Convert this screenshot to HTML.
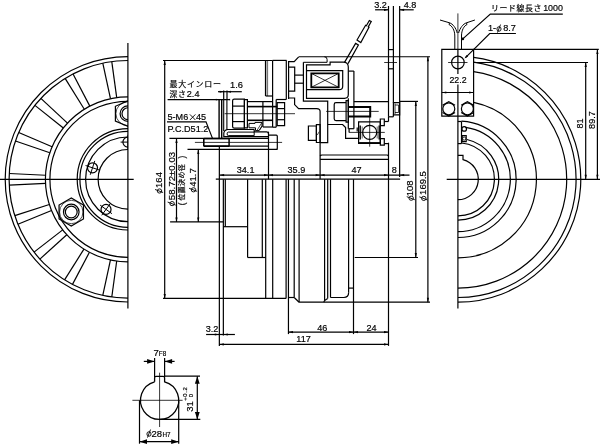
<!DOCTYPE html>
<html><head><meta charset="utf-8"><title>drawing</title>
<style>html,body{margin:0;padding:0;background:#fff}svg{display:block;will-change:transform;opacity:.999}
text{font-family:"Liberation Sans","Noto Sans CJK JP",sans-serif;fill:#000;stroke:#000;stroke-width:.18px}</style></head>
<body><svg width="600" height="448" viewBox="0 0 600 448" fill="none" stroke="#000" stroke-width="1.2" stroke-linecap="butt" stroke-linejoin="miter">
<defs><clipPath id="clipL"><rect x="0" y="0" width="127.9" height="448"/></clipPath>
<clipPath id="clipR"><rect x="457.9" y="0" width="150" height="448"/></clipPath></defs>
<rect x="0" y="0" width="600" height="448" fill="#fff" stroke="none"/>
<g clip-path="url(#clipL)">
<circle cx="127.9" cy="179.3" r="122.7" stroke-width="1.2"/>
<circle cx="127.9" cy="179.3" r="118.8" stroke-width="1.2"/>
<circle cx="127.9" cy="179.3" r="82.5" stroke-width="1.2"/>
<circle cx="127.9" cy="179.3" r="78" stroke-width="1.2"/>
<circle cx="127.9" cy="179.3" r="50.7" stroke-width="1.2"/>
<circle cx="127.9" cy="179.3" r="48" stroke-width="1.2"/>
<circle cx="127.9" cy="179.3" r="42.3" stroke-width="1.2"/>
<circle cx="127.9" cy="179.3" r="29.8" stroke-width="1.2"/>
<path d="M45.5 175.27L9.24 173.5" stroke-width="1.2"/>
<path d="M45.5 183.33L9.24 185.1" stroke-width="1.2"/>
<path d="M49.35 204.52L14.79 215.62" stroke-width="1.2"/>
<path d="M51.52 210.47L17.91 224.19" stroke-width="1.2"/>
<path d="M62.71 229.86L34.03 252.11" stroke-width="1.2"/>
<path d="M66.78 234.72L39.89 259.1" stroke-width="1.2"/>
<path d="M83.94 249.11L64.59 279.83" stroke-width="1.2"/>
<path d="M89.42 252.28L72.49 284.39" stroke-width="1.2"/>
<path d="M110.47 259.94L102.79 295.42" stroke-width="1.2"/>
<path d="M116.7 261.04L111.78 297" stroke-width="1.2"/>
<path d="M52.07 146.8L18.71 132.5" stroke-width="1.2"/>
<path d="M49.8 152.71L15.44 141.01" stroke-width="1.2"/>
<path d="M67.47 123.14L40.87 98.43" stroke-width="1.2"/>
<path d="M63.33 127.94L34.93 105.35" stroke-width="1.2"/>
<path d="M89.81 106.12L73.04 73.92" stroke-width="1.2"/>
<path d="M84.3 109.26L65.12 78.44" stroke-width="1.2"/>
<path d="M116.7 97.56L111.78 61.6" stroke-width="1.2"/>
<path d="M110.47 98.66L102.79 63.18" stroke-width="1.2"/>
<path d="M127.9 100.9L115.4 106.3L115.4 121L127.9 126.4L140.4 121L140.4 106.3Z" stroke-width="1.2" fill="none"/>
<circle cx="127.9" cy="113.65" r="12" stroke-width="0.7"/>
<circle cx="127.9" cy="113.65" r="7.8" stroke-width="1.2"/>
<circle cx="127.9" cy="113.65" r="5.9" stroke-width="1.2"/>
<path d="M71.26 197.9L59.06 205.1L59.06 218.9L71.26 226.1L83.46 218.9L83.46 205.1Z" stroke-width="1.2" fill="none"/>
<circle cx="71.26" cy="212" r="11.7" stroke-width="0.7"/>
<circle cx="71.26" cy="212" r="7.8" stroke-width="1.2"/>
<circle cx="71.26" cy="212" r="5.9" stroke-width="1.2"/>
<circle cx="127.9" cy="142.1" r="5" stroke-width="1.2"/>
<path d="M127.9 149.4L127.9 134.8" stroke-width="1"/>
<path d="M120.6 142.1L135.2 142.1" stroke-width="1"/>
<circle cx="92.52" cy="167.8" r="5" stroke-width="1.2"/>
<path d="M99.46 170.06L85.58 165.55" stroke-width="1"/>
<path d="M90.26 174.75L94.78 160.86" stroke-width="1"/>
<circle cx="106.03" cy="209.4" r="5" stroke-width="1.2"/>
<path d="M110.33 203.49L101.74 215.3" stroke-width="1"/>
<path d="M111.94 213.69L100.13 205.1" stroke-width="1"/>
</g>
<path d="M127.9 43L127.9 308.6" stroke-width="1.2"/>
<path d="M0 179.3L133.7 179.3" stroke-width="1.2"/>
<g clip-path="url(#clipR)">
<path d="M473.6 57.41A122.9 122.9 0 0 1 457.9 302.2" stroke-width="1.2" fill="none"/>
<path d="M473.6 62.15A118.2 118.2 0 0 1 457.9 297.5" stroke-width="1.2" fill="none"/>
<path d="M473.6 71.64A108.8 108.8 0 0 1 457.9 288.1" stroke-width="1.2" fill="none"/>
<path d="M473.6 102.39A78.5 78.5 0 0 1 457.9 257.8" stroke-width="1.2" fill="none"/>
<path d="M461.5 121.21A58.2 58.2 0 0 1 457.9 237.5" stroke-width="1.2" fill="none"/>
<path d="M465.5 127.45A52.4 52.4 0 0 1 457.9 231.7" stroke-width="1.2" fill="none"/>
<path d="M467 139.53A40.8 40.8 0 0 1 457.9 220.1" stroke-width="1.2" fill="none"/>
<path d="M461.5 142.98A36.5 36.5 0 0 1 457.9 215.8" stroke-width="1.2" fill="none"/>
</g>
<path d="M457.9 155.4L463 155.4L463 159.55A20.4 20.4 0 0 1 457.9 199.7" stroke-width="1.2" fill="none"/>
<path d="M457.9 13.4L457.9 49.4" stroke-width="0.8"/>
<path d="M457.9 49.4L457.9 74" stroke-width="1.2"/>
<path d="M457.9 84.6L457.9 308.6" stroke-width="1.2"/>
<path d="M446.7 179.3L600 179.3" stroke-width="1.2"/>
<path d="M441.8 49.4L473.6 49.4L473.6 116.1L441.8 116.1Z" stroke-width="1.2" fill="none"/>
<circle cx="457.9" cy="62.5" r="6.3" stroke-width="1.2"/>
<path d="M448.1 62.5L467.5 62.5" stroke-width="0.8"/>
<circle cx="448.8" cy="108.8" r="6" stroke-width="1.2"/>
<path d="M455.04 105.2L448.8 101.6L442.56 105.2" stroke-width="1.2" fill="none"/>
<path d="M442.56 112.4L448.8 116L455.04 112.4" stroke-width="1.2" fill="none"/>
<circle cx="467.4" cy="108.8" r="6" stroke-width="1.2"/>
<path d="M473.64 105.2L467.4 101.6L461.16 105.2" stroke-width="1.2" fill="none"/>
<path d="M461.16 112.4L467.4 116L473.64 112.4" stroke-width="1.2" fill="none"/>
<path d="M461.5 121.5L461.5 143.6" stroke-width="1.2"/>
<path d="M457.9 121.5L461.5 121.5" stroke-width="1.2"/>
<path d="M457.9 143.6L461.5 143.6" stroke-width="1.2"/>
<circle cx="464.2" cy="128.9" r="2.3" stroke-width="1.2"/>
<path d="M462.2 135.6L466.2 135.6L466.2 141.6L462.2 141.6Z" stroke-width="1.2" fill="none"/>
<circle cx="464.2" cy="138.6" r="1.6" stroke-width="0.8"/>
<path d="M454.8 49.4L454.8 36C454.8 30 452 26 449 24.5" stroke-width="1" fill="none"/>
<path d="M457.2 33C456 28 453 24 449.5 22.8L440 20" stroke-width="1" fill="none"/>
<path d="M461.5 49.4L461.5 36C461.5 30 464 26 467 24.5" stroke-width="1" fill="none"/>
<path d="M458.6 33C460 28 463 24 466.5 22.8L474.9 20" stroke-width="1" fill="none"/>
<path d="M449 24.5L449.5 22.8" stroke-width="1" fill="none"/>
<path d="M467 24.5L466.5 22.8" stroke-width="1" fill="none"/>
<path d="M462.8 38.9L490.3 14.1L562.8 14.1" stroke-width="1.2" fill="none"/>
<circle cx="462.8" cy="38.9" r="1.4" fill="#000" stroke="none"/>
<path d="M465.5 57.6L489.7 33.5L515.9 33.5" stroke-width="1.2" fill="none"/>
<path d="M464.5 58.6L466.48 54.92L468.18 56.62Z" fill="#000" stroke="none"/>
<path d="M473.6 49.4L598.8 49.4" stroke-width="1.2"/>
<path d="M473.6 62.5L588 62.5" stroke-width="1.2"/>
<path d="M585.7 62.5L585.7 179.3" stroke-width="1.2"/>
<path d="M585.7 62.5L586.8 67L584.6 67Z" fill="#000" stroke="none"/>
<path d="M585.7 179.3L584.6 174.8L586.8 174.8Z" fill="#000" stroke="none"/>
<path d="M597.4 49.4L597.4 179.3" stroke-width="1.2"/>
<path d="M597.4 49.4L598.5 53.9L596.3 53.9Z" fill="#000" stroke="none"/>
<path d="M597.4 179.3L596.3 174.8L598.5 174.8Z" fill="#000" stroke="none"/>
<text x="582.9" y="123.6" font-size="9" text-anchor="middle" font-weight="normal" transform="rotate(-90 582.9 123.6)">81</text>
<text x="595.2" y="120.1" font-size="9" text-anchor="middle" font-weight="normal" transform="rotate(-90 595.2 120.1)">89.7</text>
<path d="M441.8 92.5L473.6 92.5" stroke-width="1.2"/>
<path d="M441.8 92.5L446.3 91.4L446.3 93.6Z" fill="#000" stroke="none"/>
<path d="M473.6 92.5L469.1 93.6L469.1 91.4Z" fill="#000" stroke="none"/>
<text x="458" y="82.8" font-size="8.8" text-anchor="middle" font-weight="normal">22.2</text>
<text x="543.2" y="10.6" font-size="8.9" text-anchor="start" font-weight="normal">1000</text>
<text x="488" y="31" font-size="9.1" text-anchor="start" font-weight="normal">1-</text>
<text x="503.2" y="31" font-size="9.1" text-anchor="start" font-weight="normal">8.7</text>
<g transform="translate(499 28.4)"><ellipse cx="0" cy="0.6" rx="2.1" ry="2.24" stroke-width="0.9"/><path d="M1.54 -3.85L-1.54 4.2" stroke-width="0.9"/></g>
<text x="491" y="10.6" font-size="7.9" text-anchor="start" font-weight="normal" letter-spacing="0.6">リード線長さ</text>
<path d="M154.6 381.87L154.6 377.8Q154.6 376.4 156 376.4L163.2 376.4Q164.6 376.4 164.6 377.8L164.6 381.87A19.1 19.1 0 1 1 154.6 381.87" stroke-width="1.3" fill="none"/>
<path d="M132.4 400.3L182.6 400.3" stroke-width="0.8"/>
<path d="M159.6 372.7L159.6 427" stroke-width="0.8"/>
<path d="M154.6 358L154.6 377" stroke-width="1.2"/>
<path d="M164.6 358L164.6 377" stroke-width="1.2"/>
<path d="M143.8 361.4L154.6 361.4" stroke-width="1.2"/>
<path d="M164.6 361.4L174.6 361.4" stroke-width="1.2"/>
<path d="M154.6 361.4L147.1 363.8L147.1 359Z" fill="#000" stroke="none"/>
<path d="M164.6 361.4L172.1 359L172.1 363.8Z" fill="#000" stroke="none"/>
<path d="M164.6 376.2L200 376.2" stroke-width="1.2"/>
<path d="M159.6 419.4L200.3 419.4" stroke-width="1.2"/>
<path d="M197.3 376.2L197.3 419.4" stroke-width="1.2"/>
<path d="M197.3 376.2L199.7 383.7L194.9 383.7Z" fill="#000" stroke="none"/>
<path d="M197.3 419.4L194.9 411.9L199.7 411.9Z" fill="#000" stroke="none"/>
<path d="M139.5 400.3L139.5 443.7" stroke-width="1.2"/>
<path d="M178.7 400.3L178.7 443.7" stroke-width="1.2"/>
<path d="M139.5 441.7L178.7 441.7" stroke-width="1.2"/>
<path d="M139.5 441.7L147 439.3L147 444.1Z" fill="#000" stroke="none"/>
<path d="M178.7 441.7L171.2 444.1L171.2 439.3Z" fill="#000" stroke="none"/>
<text x="153.5" y="356.4" font-size="9.5" text-anchor="start" font-weight="normal">7</text>
<text x="158.8" y="356.4" font-size="6.3" text-anchor="start" font-weight="normal">F8</text>
<text x="151.5" y="437.2" font-size="9.5" text-anchor="start" font-weight="normal">28</text>
<text x="162.4" y="437.2" font-size="6.3" text-anchor="start" font-weight="normal">H7</text>
<g transform="translate(149 433.4)"><ellipse cx="0" cy="0.6" rx="2.1" ry="2.24" stroke-width="0.9"/><path d="M1.54 -3.85L-1.54 4.2" stroke-width="0.9"/></g>
<text x="192.8" y="411.8" font-size="9.5" text-anchor="start" font-weight="normal" transform="rotate(-90 192.8 411.8)">31</text>
<text x="187.4" y="400.8" font-size="6" text-anchor="start" font-weight="normal" letter-spacing="0.6" transform="rotate(-90 187.4 400.8)">+0.2</text>
<text x="193.4" y="397.3" font-size="6" text-anchor="start" font-weight="normal" transform="rotate(-90 193.4 397.3)">0</text>
<path d="M163 60.5L272.6 60.5" stroke-width="1.2"/>
<path d="M164.7 60.5L164.7 298.4" stroke-width="1.2"/>
<path d="M164.7 60.5L165.8 65L163.6 65Z" fill="#000" stroke="none"/>
<path d="M164.7 298.4L163.6 293.9L165.8 293.9Z" fill="#000" stroke="none"/>
<path d="M163 298.4L286.1 298.4" stroke-width="1.2"/>
<path d="M169.4 138.4L268.5 138.4" stroke-width="1.2"/>
<path d="M176.5 138.4L176.5 221.9" stroke-width="1.2"/>
<path d="M176.5 138.4L177.6 142.9L175.4 142.9Z" fill="#000" stroke="none"/>
<path d="M176.5 221.9L175.4 217.4L177.6 217.4Z" fill="#000" stroke="none"/>
<path d="M170.1 221.9L223.3 221.9" stroke-width="1.2"/>
<path d="M187.5 149.4L277.4 149.4" stroke-width="1.2"/>
<path d="M198.3 149.4L198.3 221.9" stroke-width="1.2"/>
<path d="M198.3 149.4L199.4 153.9L197.2 153.9Z" fill="#000" stroke="none"/>
<path d="M198.3 221.9L197.2 217.4L199.4 217.4Z" fill="#000" stroke="none"/>
<path d="M194.9 142.4L282.1 142.4" stroke-width="0.8"/>
<path d="M219.6 175.1L409.5 175.1" stroke-width="1.2"/>
<path d="M219.6 175.1L224.1 174L224.1 176.2Z" fill="#000" stroke="none"/>
<path d="M268.5 175.1L264 176.2L264 174Z" fill="#000" stroke="none"/>
<path d="M268.5 175.1L273 174L273 176.2Z" fill="#000" stroke="none"/>
<path d="M320.1 175.1L315.6 176.2L315.6 174Z" fill="#000" stroke="none"/>
<path d="M320.1 175.1L324.6 174L324.6 176.2Z" fill="#000" stroke="none"/>
<path d="M388.5 175.1L384 176.2L384 174Z" fill="#000" stroke="none"/>
<path d="M399.7 175.1L404.2 174L404.2 176.2Z" fill="#000" stroke="none"/>
<path d="M268.5 131.7L268.5 179.2" stroke-width="1.2"/>
<path d="M399.65 6L399.65 176.9" stroke-width="1.2"/>
<text x="245.6" y="173.2" font-size="9.1" text-anchor="middle" font-weight="normal">34.1</text>
<text x="296.4" y="173.2" font-size="9.1" text-anchor="middle" font-weight="normal">35.9</text>
<text x="356.5" y="173.2" font-size="9.1" text-anchor="middle" font-weight="normal">47</text>
<text x="394.4" y="173.2" font-size="9.1" text-anchor="middle" font-weight="normal">8</text>
<path d="M206.1 334.5L234.9 334.5" stroke-width="1.2"/>
<path d="M219.3 334.5L214.8 335.6L214.8 333.4Z" fill="#000" stroke="none"/>
<path d="M223.3 334.5L227.8 333.4L227.8 335.6Z" fill="#000" stroke="none"/>
<text x="212.1" y="332" font-size="9.1" text-anchor="middle" font-weight="normal">3.2</text>
<path d="M288.5 332.1L388.5 332.1" stroke-width="1.2"/>
<path d="M288.5 332.1L293 331L293 333.2Z" fill="#000" stroke="none"/>
<path d="M353.5 332.1L349 333.2L349 331Z" fill="#000" stroke="none"/>
<path d="M353.5 332.1L358 331L358 333.2Z" fill="#000" stroke="none"/>
<path d="M388.5 332.1L384 333.2L384 331Z" fill="#000" stroke="none"/>
<text x="322.3" y="330.5" font-size="9.1" text-anchor="middle" font-weight="normal">46</text>
<text x="371.5" y="330.5" font-size="9.1" text-anchor="middle" font-weight="normal">24</text>
<path d="M219.3 344.4L388.5 344.4" stroke-width="1.2"/>
<path d="M219.3 344.4L223.8 343.3L223.8 345.5Z" fill="#000" stroke="none"/>
<path d="M388.5 344.4L384 345.5L384 343.3Z" fill="#000" stroke="none"/>
<text x="303.5" y="342.4" font-size="9.1" text-anchor="middle" font-weight="normal">117</text>
<path d="M375.1 9.8L388.5 9.8" stroke-width="1.2"/>
<path d="M388.5 9.8L384 10.9L384 8.7Z" fill="#000" stroke="none"/>
<path d="M399.65 9.8L413.7 9.8" stroke-width="1.2"/>
<path d="M399.65 9.8L404.15 8.7L404.15 10.9Z" fill="#000" stroke="none"/>
<text x="380.6" y="8.2" font-size="9.1" text-anchor="middle" font-weight="normal">3.2</text>
<text x="410" y="8.2" font-size="9.1" text-anchor="middle" font-weight="normal">4.8</text>
<path d="M388.5 6L388.5 116.8" stroke-width="1.2"/>
<path d="M393.4 6L393.4 102.7" stroke-width="1.2"/>
<path d="M388.5 49.6L393.4 49.6" stroke-width="1.2"/>
<path d="M388.5 68.8L393.4 68.8" stroke-width="1.2"/>
<path d="M384.2 62.5L397 62.5" stroke-width="0.8"/>
<path d="M399.65 101.4L418 101.4" stroke-width="1.2"/>
<path d="M415.8 101.4L415.8 257.5" stroke-width="1.2"/>
<path d="M415.8 101.4L416.9 105.9L414.7 105.9Z" fill="#000" stroke="none"/>
<path d="M415.8 257.5L414.7 253L416.9 253Z" fill="#000" stroke="none"/>
<path d="M354.7 257.5L418 257.5" stroke-width="1.2"/>
<path d="M298.8 56.75L430 56.75" stroke-width="1.2"/>
<path d="M427.9 56.75L427.9 302.2" stroke-width="1.2"/>
<path d="M427.9 56.75L429 61.25L426.8 61.25Z" fill="#000" stroke="none"/>
<path d="M427.9 302.2L426.8 297.7L429 297.7Z" fill="#000" stroke="none"/>
<path d="M299.1 302.2L430 302.2" stroke-width="1.2"/>
<text x="162.2" y="180" font-size="9.5" text-anchor="middle" font-weight="normal" transform="rotate(-90 162.2 180)">164</text>
<g transform="translate(158.9 191) rotate(-90)"><ellipse cx="0" cy="0.6" rx="2.1" ry="2.24" stroke-width="0.9"/><path d="M1.54 -3.85L-1.54 4.2" stroke-width="0.9"/></g>
<text x="174.8" y="176" font-size="9.7" text-anchor="middle" font-weight="normal" transform="rotate(-90 174.8 176)">58.72±0.03</text>
<g transform="translate(171.5 203.6) rotate(-90)"><ellipse cx="0" cy="0.6" rx="2.1" ry="2.24" stroke-width="0.9"/><path d="M1.54 -3.85L-1.54 4.2" stroke-width="0.9"/></g>
<text x="196.2" y="177.5" font-size="9.5" text-anchor="middle" font-weight="normal" transform="rotate(-90 196.2 177.5)">41.7</text>
<g transform="translate(192.9 189.8) rotate(-90)"><ellipse cx="0" cy="0.6" rx="2.1" ry="2.24" stroke-width="0.9"/><path d="M1.54 -3.85L-1.54 4.2" stroke-width="0.9"/></g>
<text x="412.8" y="188.4" font-size="9.5" text-anchor="middle" font-weight="normal" transform="rotate(-90 412.8 188.4)">108</text>
<g transform="translate(410.6 198.2) rotate(-90)"><ellipse cx="0" cy="0.6" rx="2.1" ry="2.24" stroke-width="0.9"/><path d="M1.54 -3.85L-1.54 4.2" stroke-width="0.9"/></g>
<text x="426.2" y="183" font-size="9.5" text-anchor="middle" font-weight="normal" transform="rotate(-90 426.2 183)">169.5</text>
<g transform="translate(423.2 198.4) rotate(-90)"><ellipse cx="0" cy="0.6" rx="2.1" ry="2.24" stroke-width="0.9"/><path d="M1.54 -3.85L-1.54 4.2" stroke-width="0.9"/></g>
<text x="0" y="0" font-size="7" text-anchor="start" font-weight="normal" letter-spacing="0.3" transform="translate(184.4 200.5) rotate(-90)">位置決め径</text>
<text x="0" y="0" font-size="8.2" text-anchor="start" font-weight="normal" transform="translate(184.6 205.2) rotate(-90)">(</text>
<text x="0" y="0" font-size="8.2" text-anchor="start" font-weight="normal" transform="translate(184.6 158.6) rotate(-90)">)</text>
<path d="M218 91.7L241.8 91.7" stroke-width="1.2"/>
<path d="M223.7 91.7L219.7 92.7L219.7 90.7Z" fill="#000" stroke="none"/>
<path d="M227 91.7L231 90.7L231 92.7Z" fill="#000" stroke="none"/>
<path d="M223.7 90.5L223.7 99.7" stroke-width="1.2"/>
<path d="M227 90.5L227 99.7" stroke-width="1.2"/>
<text x="236.5" y="88" font-size="9.3" text-anchor="middle" font-weight="normal">1.6</text>
<path d="M167.6 99.6L228.8 99.6" stroke-width="1.2"/>
<text x="169.5" y="87.3" font-size="8" text-anchor="start" font-weight="normal" letter-spacing="0.7">最大インロー</text>
<text x="169.5" y="97.2" font-size="7.8" text-anchor="start" font-weight="normal" letter-spacing="0.6">深さ</text>
<text x="186.8" y="97.4" font-size="9.1" text-anchor="start" font-weight="normal">2.4</text>
<text x="167.5" y="120.2" font-size="9.1" text-anchor="start" font-weight="normal">5-M6</text>
<text x="196" y="120.2" font-size="9.1" text-anchor="start" font-weight="normal">45</text>
<path d="M189.9 114.4L195.4 120" stroke-width="0.9"/>
<path d="M195.4 114.4L189.9 120" stroke-width="0.9"/>
<text x="167.5" y="132" font-size="9.1" text-anchor="start" font-weight="normal">P.C.D51.2</text>
<path d="M167 121.8L206 121.8L212.5 138.4" stroke-width="1.2" fill="none"/>
<path d="M215.8 179.2L400.1 179.2" stroke-width="1.2"/>
<path d="M219.35 179.2L219.35 345.9" stroke-width="1.2"/>
<path d="M223.35 179.2L223.35 335.5" stroke-width="1.2"/>
<path d="M225.3 179.2L225.3 226.7" stroke-width="1.2"/>
<path d="M247.6 179.2L247.6 257.5" stroke-width="1.2"/>
<path d="M262.3 179.2L262.3 257.5" stroke-width="1.2"/>
<path d="M265.7 179.2L265.7 298.4" stroke-width="1.2"/>
<path d="M272.7 179.2L272.7 298.4" stroke-width="1.2"/>
<path d="M286.1 179.2L286.1 298.4" stroke-width="1.2"/>
<path d="M288.45 179.2L288.45 334.1" stroke-width="1.2"/>
<path d="M294.2 179.2L294.2 297.5" stroke-width="1.2"/>
<path d="M299.1 179.2L299.1 302.2" stroke-width="1.2"/>
<path d="M324.6 179.2L324.6 300.5" stroke-width="1.2"/>
<path d="M327.7 179.2L327.7 298.5" stroke-width="1.2"/>
<path d="M330.5 179.2L330.5 297.5" stroke-width="1.2"/>
<path d="M348.6 179.2L348.6 292.8" stroke-width="1.2"/>
<path d="M353.5 179.2L353.5 334.1" stroke-width="1.2"/>
<path d="M388.5 179.2L388.5 345.9" stroke-width="1.2"/>
<path d="M223.35 226.7L247.6 226.7" stroke-width="1.2"/>
<path d="M247.6 257.5L265.7 257.5" stroke-width="1.2"/>
<path d="M288.45 297.5L294.2 297.5" stroke-width="1.2"/>
<path d="M294.2 297.5L299.1 302.2" stroke-width="1.2"/>
<path d="M324.6 300.5L323.8 302.2M324.6 300.5L327.7 298.5" stroke-width="1.2" fill="none"/>
<path d="M330.5 297.5L343.8 297.5Q348.6 297.5 348.6 292.8" stroke-width="1.2" fill="none"/>
<path d="M348.6 288.1L353.5 288.1" stroke-width="1.2"/>
<path d="M265.6 60.4L265.6 96" stroke-width="1.4"/>
<path d="M267.6 60.4L267.6 96" stroke-width="0.6"/>
<path d="M265.6 96L272.6 96" stroke-width="1.2"/>
<path d="M272.6 60.4L272.6 127.2" stroke-width="1.2"/>
<path d="M272.6 60.4L286.6 60.4" stroke-width="1.2"/>
<path d="M286.3 60.4L286.3 99.5" stroke-width="1.2"/>
<path d="M276.2 99.5L286.3 99.5" stroke-width="1.2"/>
<path d="M219.1 99.6L219.1 138.4" stroke-width="1.4"/>
<path d="M221.7 99.6L221.7 138.4" stroke-width="1.4"/>
<path d="M223.7 99.6L223.7 131" stroke-width="1.1"/>
<path d="M226.9 99.6L226.9 130" stroke-width="1.1"/>
<path d="M219.1 99.6L215.9 100.5L215.9 98.7Z" fill="#000" stroke="none"/>
<path d="M226.9 99.6L230.1 98.7L230.1 100.5Z" fill="#000" stroke="none"/>
<path d="M234.2 99.2L244.4 99.2L244.4 128.1L234.2 128.1Q232.6 128.1 232.6 126.5L232.6 100.8Q232.6 99.2 234.2 99.2Z" stroke-width="1.2" fill="none"/>
<path d="M232.6 106.1L244.4 106.1" stroke-width="1.2"/>
<path d="M232.6 121.6L244.4 121.6" stroke-width="1.2"/>
<path d="M224.6 113.7L295 113.7" stroke-width="0.8"/>
<path d="M244.4 99.6L247.4 99.6L247.4 127.8L244.4 127.8Z" stroke-width="1.2" fill="none"/>
<path d="M247.4 101.6L272.6 101.6" stroke-width="1.2"/>
<path d="M247.4 106.6L277.2 106.6" stroke-width="1.6"/>
<path d="M247.4 120.3L272.6 120.3" stroke-width="1.6"/>
<path d="M262.9 101.6L262.9 127" stroke-width="1.2"/>
<path d="M262.9 127L272.6 127" stroke-width="1.2"/>
<path d="M249 123.4L255 123.4L255 122.4L262 122.4L262 126L259 130.6L255.5 130.6L255.5 127.8L249 127.8Z" stroke-width="1" fill="none"/>
<path d="M257 130.4L261.6 123" stroke-width="0.7"/>
<path d="M259.5 130.4L262 126.4" stroke-width="0.7"/>
<path d="M254.2 129.5L227.6 129.5Q223.8 130.2 223.8 133.6L223.8 136.6L268.3 136.6" stroke-width="1.2" fill="none"/>
<path d="M228.3 132.1L254.2 132.1L254.2 135.6L228.3 135.6Q227.1 135.6 227.1 133.85Q227.1 132.1 228.3 132.1Z" stroke-width="1" fill="none"/>
<path d="M254.2 129.5L254.2 131.9L266.6 131.9Q268.3 131.9 268.3 133.6" stroke-width="1.2" fill="none"/>
<path d="M276.2 99.5L276.2 127.2" stroke-width="1.2"/>
<path d="M272.6 127.2L276.2 127.2" stroke-width="1.2"/>
<path d="M277.2 102.6L284.6 102.6L284.6 125.6L277.2 125.6Z" stroke-width="1.2" fill="none"/>
<path d="M277.2 108.6L284.6 108.6" stroke-width="1.2"/>
<path d="M277.2 119.7L284.6 119.7" stroke-width="1.2"/>
<path d="M203.8 138.4L203.8 146.2" stroke-width="1.6"/>
<path d="M203.8 146.2L268.6 146.2" stroke-width="1.2"/>
<path d="M229.1 138.4L229.1 146.2" stroke-width="1.5"/>
<path d="M203.8 138.6L229.1 138.6" stroke-width="1.6"/>
<path d="M203.8 146.2L229.1 146.2" stroke-width="1.6"/>
<path d="M268.6 135.2L276.3 135.2Q277.3 135.2 277.3 136.2L277.3 148.4Q277.3 149.4 276.3 149.4" stroke-width="1.2" fill="none"/>
<path d="M219.35 146.2L219.35 179.2" stroke-width="1.2"/>
<path d="M288.6 99L288.6 61.6L294.2 61.6L298.7 56.8" stroke-width="1.2" fill="none"/>
<path d="M288.6 67.1L294.7 67.1L294.7 91.2L288.6 91.2" stroke-width="1.2" fill="none"/>
<path d="M294.7 75.1L303.4 75.1" stroke-width="1.2"/>
<path d="M294.7 83.2L303.4 83.2" stroke-width="1.2"/>
<path d="M288.6 98L294.6 98L294.6 104.6L298.6 108.6L316.7 108.6Q320.1 108.6 320.1 111.6L320.1 179" stroke-width="1.2" fill="none"/>
<path d="M303.4 62.3L327.1 62.3L327.1 59.5Q327.1 56.8 324.4 56.8" stroke-width="1" fill="none"/>
<path d="M303.4 62.3L303.4 101.05L327.7 101.05L327.7 142.7L320.1 142.7" stroke-width="1.2" fill="none"/>
<path d="M306.5 98.3L306.5 64.9L330.1 64.9L330.1 62.1L343.2 62.1Q348.3 62.1 348.3 67.1L348.3 94.5Q348.3 98.3 344.5 98.3Z" stroke-width="1.2" fill="none"/>
<path d="M306.5 70.6L342.7 70.6L342.7 86.2Q342.7 89.7 339.2 89.7L306.5 89.7" stroke-width="1.2" fill="none"/>
<path d="M311.3 73.4L338.7 73.4L338.7 87.3L311.3 87.3Z" stroke-width="1.8" fill="none"/>
<path d="M311.3 73.4L338.7 87.3" stroke-width="0.8"/>
<path d="M311.3 87.3L338.7 73.4" stroke-width="0.8"/>
<path d="M344.5 62.4L355.6 43.4L358.4 45L348 63.6" stroke-width="1.2" fill="none"/>
<path d="M357 40L365.6 25.3L366.35 25.75L369.35 20.45L371.25 21.55L368.25 26.85L369 27.3L360.8 42.6Z" stroke-width="1.2" fill="none"/>
<path d="M348.3 71.1L353.9 71.1" stroke-width="1.2"/>
<path d="M353.9 71.1L353.9 128.7" stroke-width="1.2"/>
<path d="M348.3 98.3L348.3 128.7" stroke-width="1.2"/>
<path d="M348.3 128.7L353.9 128.7" stroke-width="1.2"/>
<path d="M353.9 101.6L388.5 101.6" stroke-width="1.2"/>
<path d="M308.4 126L316.4 126L316.4 140.3L308.4 140.3Z" stroke-width="1.2" fill="none"/>
<path d="M316.4 124.7L320.1 124.7L320.1 142.5L316.4 142.5Z" stroke-width="1.2" fill="none"/>
<path d="M317.3 135L319.3 131.5" stroke-width="0.7"/>
<path d="M346.1 102.6L336 102.6Q334.2 102.6 334.2 104.4L334.2 118.8Q334.2 120.65 336 120.65L346.1 120.65" stroke-width="1.2" fill="none"/>
<path d="M346.1 100.6L348.3 100.6L348.3 122.2L346.1 122.2Z" stroke-width="1.2" fill="none"/>
<path d="M326.2 111.4L378.7 111.4" stroke-width="0.8"/>
<path d="M348.4 106.9L370.2 106.9L370.2 116.6L348.4 116.6" stroke-width="2" fill="none"/>
<path d="M327.7 124.5L342.6 124.5L345.6 127.6L345.6 138.3L358.6 138.3" stroke-width="1.2" fill="none"/>
<path d="M349.1 128.7L349.1 132.4" stroke-width="1.2"/>
<path d="M349.1 132.4L384.8 132.4" stroke-width="0.8"/>
<path d="M358.6 121.8L380.3 121.8L380.3 143.4L358.6 143.4Z" stroke-width="1.2" fill="none"/>
<circle cx="369.7" cy="132.4" r="7" stroke-width="1.2"/>
<path d="M369.7 116.6L369.7 146.7" stroke-width="0.8"/>
<path d="M360.2 125.6L360.2 139.6" stroke-width="1.4"/>
<path d="M379.2 125.6L379.2 139.6" stroke-width="1.4"/>
<path d="M357.2 127.5L357.2 131.5" stroke-width="1.2"/>
<path d="M362.2 126.5L362.2 138.5" stroke-width="0.6"/>
<path d="M377.2 126.5L377.2 138.5" stroke-width="0.6"/>
<path d="M380.3 119L384.3 119L384.3 125.6L380.3 125.6Z" stroke-width="1.2" fill="none"/>
<path d="M380.3 138.6L384.3 138.6L384.3 145.2L380.3 145.2Z" stroke-width="1.2" fill="none"/>
<path d="M384.3 121.5L388.5 121.5" stroke-width="1.2"/>
<path d="M388.5 116.8L388.5 121.5" stroke-width="1.2"/>
<path d="M384.3 143.6L388.5 143.6" stroke-width="1.2"/>
<path d="M358.9 142.7L381 142.7" stroke-width="1.2"/>
<path d="M393.4 102.7L399.65 102.7L399.65 114.8L393.4 114.8Z" stroke-width="1.2" fill="none"/>
<path d="M395 103.5L395 114" stroke-width="0.8"/>
<path d="M395 105L398.6 105" stroke-width="0.8"/>
<path d="M395 112.5L398.6 112.5" stroke-width="0.8"/>
<path d="M398.6 105L398.6 112.5" stroke-width="0.8"/>
<path d="M388.5 116.8L393.4 116.8" stroke-width="1.2"/>
<path d="M393.4 114.8L393.4 116.8" stroke-width="1.2"/>
<path d="M388.5 142.7L388.5 179" stroke-width="1.2"/>
<path d="M321.1 155L387.5 155M320.1 156L321.1 155M387.5 155L388.5 156" stroke-width="1.2" fill="none"/>
<path d="M320.1 159.4L388.5 159.4" stroke-width="1.2"/>
</svg></body></html>
